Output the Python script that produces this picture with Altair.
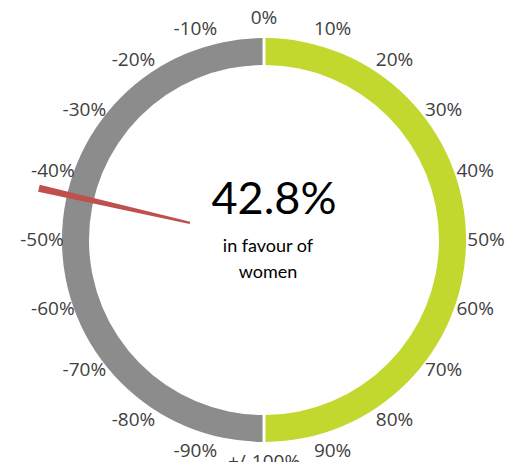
import altair as alt
import pandas as pd

# ring halves (gauge value units, -100 .. 100)
seg_names = ["men", "women"]
seg_start = [-100, 0]
seg_end = [0, 100]
seg_colors = ["#8c8c8c", "#c2d82e"]

# tick labels
tick_values = [-90, -80, -70, -60, -50, -40, -30, -20, -10, 0, 10, 20, 30, 40, 50, 60, 70, 80, 90, 100]
tick_labels = ["-90%", "-80%", "-70%", "-60%", "-50%", "-40%", "-30%", "-20%", "-10%", "0%",
               "10%", "20%", "30%", "40%", "50%", "60%", "70%", "80%", "90%", "+/-100%"]

# needle value
needle_value = -42.8
needle_half_width = 0.5
headline = "42.8%"
sub_lines = ["in favour of", "women"]

CX, CY = 264, 240
theta_scale = alt.Scale(domain=[-100, 100], range=[-3.14159265, 3.14159265])

seg_df = pd.DataFrame({"name": seg_names, "start": seg_start, "end": seg_end})
ring = alt.Chart(seg_df).mark_arc(innerRadius=175, outerRadius=202, padAngle=0.011).encode(
    theta=alt.Theta("start:Q", scale=theta_scale),
    theta2="end:Q",
    color=alt.Color("name:N", scale=alt.Scale(domain=seg_names, range=seg_colors), legend=None),
    x=alt.value(CX), y=alt.value(CY),
)

tick_df = pd.DataFrame({"v": tick_values, "label": tick_labels})
ticks = alt.Chart(tick_df).mark_text(
    radius=222, font="Open Sans", fontSize=19, color="#404040", align="center", baseline="middle"
).encode(
    theta=alt.Theta("v:Q", scale=theta_scale),
    text="label:N",
    x=alt.value(CX), y=alt.value(CY),
)

needle_df = pd.DataFrame({"a": [needle_value - needle_half_width], "b": [needle_value + needle_half_width]})
needle = alt.Chart(needle_df).mark_arc(innerRadius=76, outerRadius=231, color="#c0504d").encode(
    theta=alt.Theta("a:Q", scale=theta_scale),
    theta2="b:Q",
    x=alt.value(CX), y=alt.value(CY),
)

head = alt.Chart(pd.DataFrame({"t": [headline]})).mark_text(
    font="Lato", fontSize=45, color="#000000", align="center", baseline="middle"
).encode(text="t:N", x=alt.value(274), y=alt.value(200))
sub1 = alt.Chart(pd.DataFrame({"t": [sub_lines[0]]})).mark_text(
    font="Lato", fontSize=18, color="#000000", align="center", baseline="middle"
).encode(text="t:N", x=alt.value(268), y=alt.value(247))
sub2 = alt.Chart(pd.DataFrame({"t": [sub_lines[1]]})).mark_text(
    font="Lato", fontSize=18, color="#000000", align="center", baseline="middle"
).encode(text="t:N", x=alt.value(268), y=alt.value(273))

chart = alt.layer(ring, needle, ticks, head, sub1, sub2).properties(
    width=514, height=462, autosize=alt.AutoSizeParams(type="none"), padding=0, background="white"
).configure_view(stroke=None)

chart.save("out.html", embed_options={"renderer": "svg", "actions": False})
